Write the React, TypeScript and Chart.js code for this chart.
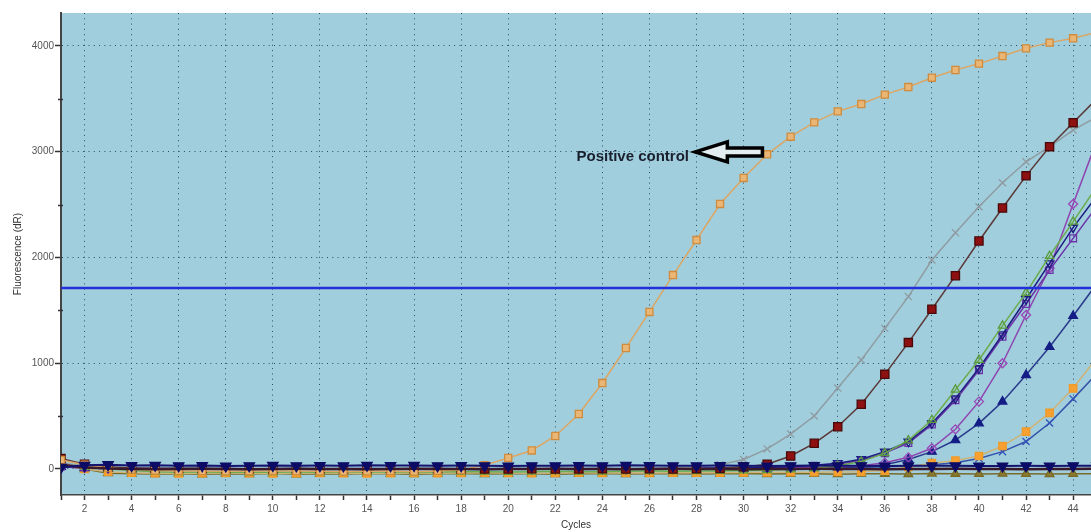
import { useEffect, useRef } from 'react';
import { Chart, registerables } from 'chart.js';

Chart.register(...registerables);

// ---------- data ----------
const cycles = [1, 2, 3, 4, 5, 6, 7, 8, 9, 10, 11, 12, 13, 14, 15, 16, 17, 18, 19, 20, 21, 22, 23, 24, 25, 26, 27, 28, 29, 30, 31, 32, 33, 34, 35, 36, 37, 38, 39, 40, 41, 42, 43, 44, 45];

const positiveControl = [85, 40, 10, -5, -15, -18, -20, -22, -20, -18, -20, -22, -25, -22, -20, -25, -18, -10, 35, 104, 175, 312, 520, 813, 1144, 1485, 1834, 2165, 2506, 2752, 2976, 3142, 3278, 3382, 3451, 3540, 3612, 3700, 3773, 3833, 3905, 3978, 4032, 4073, 4130];

const sampleGrayX = [55, 30, 15, 10, 8, 5, 5, 3, 2, 0, 0, -2, 0, 2, 0, -3, 0, 2, 0, 0, 3, 5, 2, 0, 5, 8, 10, 18, 40, 90, 190, 330, 501, 765, 1031, 1330, 1630, 1976, 2235, 2480, 2707, 2905, 3048, 3205, 3330];

const sampleDarkRed = [100, 45, 20, 10, 5, 5, 2, 0, 0, -2, 0, 0, -3, 0, 2, 0, 0, -2, 0, 0, 2, 0, 0, 3, 0, 2, 0, 3, 5, 20, 45, 123, 243, 400, 612, 895, 1195, 1510, 1828, 2156, 2468, 2772, 3048, 3275, 3500];

const sampleGreen = [40, 20, 0, -15, -25, -30, -28, -30, -32, -30, -28, -30, -30, -28, -25, -30, -28, -25, -25, -28, -25, -22, -25, -25, -22, -20, -22, -20, -18, -15, -12, -5, 5, 30, 70, 150, 270, 463, 750, 1031, 1355, 1665, 2014, 2339, 2670];

const sampleNavyOpen = [30, 20, 15, 10, 8, 5, 5, 5, 3, 3, 5, 2, 3, 5, 3, 2, 5, 3, 2, 5, 3, 2, 3, 5, 3, 2, 5, 8, 10, 12, 15, 22, 35, 55, 92, 164, 258, 432, 668, 953, 1272, 1605, 1945, 2282, 2580];

const samplePurpleSquare = [25, 15, 10, 5, 5, 3, 2, 3, 0, 2, 3, 0, 2, 3, 0, 2, 0, 3, 2, 0, 2, 3, 0, 2, 0, 3, 5, 6, 8, 10, 14, 20, 30, 45, 80, 150, 245, 420, 650, 935, 1250, 1560, 1882, 2181, 2480];

const samplePurpleDiamond = [20, 10, 5, 2, 0, 0, -2, 0, 0, -2, 0, 0, 2, 0, 0, -2, 0, 0, 2, 0, 0, 0, 2, 0, 0, 2, 3, 3, 5, 6, 8, 10, 14, 20, 30, 60, 110, 196, 375, 637, 1000, 1456, 1898, 2506, 3100];

const sampleBlueTriangle = [20, 10, 5, 0, -2, -3, -5, -3, -5, -3, -5, -5, -3, -5, -3, -5, -3, -2, -5, -3, -2, -3, -5, -2, -3, 0, -2, 0, 2, 3, 5, 8, 10, 15, 22, 40, 90, 164, 274, 432, 637, 889, 1154, 1447, 1750];

const sampleOrange = [30, 0, -25, -35, -40, -42, -40, -38, -40, -42, -40, -38, -40, -42, -40, -38, -40, -38, -36, -38, -40, -38, -36, -38, -35, -38, -36, -35, -35, -33, -32, -30, -30, -28, -25, -15, 20, 55, 80, 123, 217, 353, 530, 763, 1050];

const sampleBlueX = [25, 10, 5, 0, 0, -2, 0, 0, -2, 0, 0, 0, -2, 0, 0, 0, 2, 0, 0, -2, 0, 0, 2, 0, 0, 0, 2, 0, 2, 3, 5, 5, 8, 10, 14, 20, 28, 40, 60, 100, 164, 260, 435, 663, 900];

const negativeNavy = [15, 35, 40, 32, 35, 30, 32, 28, 30, 33, 30, 32, 30, 35, 32, 33, 30, 32, 30, 28, 30, 30, 32, 30, 35, 32, 30, 30, 32, 30, 28, 30, 32, 30, 30, 28, 30, 30, 30, 28, 28, 30, 28, 30, 30];

const negativeOlive = [60, 0, -40, -45, -48, -44, -50, -46, -48, -43, -50, -45, -47, -44, -46, -49, -45, -43, -48, -46, -44, -49, -45, -42, -48, -46, -44, -47, -45, -43, -48, -46, -45, -49, -44, -46, -48, -43, -45, -47, -44, -46, -48, -45, -44];

const negativeDark = [40, 15, 5, 0, -2, 0, 2, 0, -3, 0, 2, 0, 0, -2, 0, 2, 0, 0, -2, 0, 0, 2, 0, 0, -2, 0, 2, 0, 0, -2, 0, 0, 2, 0, 0, -2, 0, 0, 2, 0, 0, -2, 0, 0, 2];

const thresholdValue = 1712;
const thresholdX = [1, 45];

const xTickValues = [1, 2, 3, 4, 5, 6, 7, 8, 9, 10, 11, 12, 13, 14, 15, 16, 17, 18, 19, 20, 21, 22, 23, 24, 25, 26, 27, 28, 29, 30, 31, 32, 33, 34, 35, 36, 37, 38, 39, 40, 41, 42, 43, 44];
const yMajorTicks = [0, 1000, 2000, 3000, 4000];
const yMinorTicks = [500, 1500, 2500, 3500];

const X_MIN = 1;
const X_MAX = 44.76;
const Y_MIN = -246;
const Y_MAX = 4312;

// annotation position in data units
const labelText = 'Positive control';
const labelAt = { x: 25.29, y: 2950 };
const arrowTip = { x: 27.95, y: 2998 };
const arrowTailX = 30.8;

const GRID = '#2b4a66';
const PLOT_BG = '#a0cedd';

const toPoints = (vals: number[]) => cycles.map((c, i) => ({ x: c, y: vals[i] }));

function series(
  label: string,
  vals: number[],
  lineColor: string,
  pointStyle: any,
  radius: number,
  pointBorder: string,
  pointFill: string,
  lineWidth = 1.5,
  rotation = 0
) {
  return {
    label,
    data: toPoints(vals),
    borderColor: lineColor,
    borderWidth: lineWidth,
    pointStyle,
    pointRadius: radius,
    pointRotation: rotation,
    pointBorderColor: pointBorder,
    pointBackgroundColor: pointFill,
    pointBorderWidth: 1.3,
    tension: 0,
    fill: false,
  };
}

const bgPlugin = {
  id: 'plotBg',
  beforeDraw(chart: any) {
    const { ctx, chartArea } = chart;
    ctx.save();
    ctx.fillStyle = PLOT_BG;
    ctx.fillRect(chartArea.left, chartArea.top, chartArea.right - chartArea.left, chartArea.bottom - chartArea.top);
    ctx.restore();
  },
};

const minorTickPlugin = {
  id: 'minorTicks',
  afterDraw(chart: any) {
    const { ctx, chartArea } = chart;
    const ys = chart.scales.y;
    ctx.save();
    ctx.strokeStyle = '#333';
    ctx.lineWidth = 1.5;
    yMinorTicks.forEach((v) => {
      const py = Math.round(ys.getPixelForValue(v)) + 0.5;
      ctx.beginPath();
      ctx.moveTo(chartArea.left - 3, py);
      ctx.lineTo(chartArea.left + 2, py);
      ctx.stroke();
    });
    ctx.restore();
  },
};

const annotationPlugin = {
  id: 'pcAnnotation',
  afterDatasetsDraw(chart: any) {
    const { ctx } = chart;
    const xs = chart.scales.x;
    const ys = chart.scales.y;
    ctx.save();
    ctx.font = 'bold 15px "Liberation Sans", Arial, sans-serif';
    ctx.fillStyle = '#1a1f2e';
    ctx.textAlign = 'center';
    ctx.textBaseline = 'middle';
    ctx.fillText(labelText, xs.getPixelForValue(labelAt.x), ys.getPixelForValue(labelAt.y));

    const tx = xs.getPixelForValue(arrowTip.x);
    const cy = ys.getPixelForValue(arrowTip.y);
    const ex = xs.getPixelForValue(arrowTailX);
    const hx = tx + 32;
    ctx.beginPath();
    ctx.moveTo(tx, cy);
    ctx.lineTo(hx, cy - 10);
    ctx.lineTo(hx, cy - 4);
    ctx.lineTo(ex, cy - 4);
    ctx.lineTo(ex, cy + 4);
    ctx.lineTo(hx, cy + 4);
    ctx.lineTo(hx, cy + 10);
    ctx.closePath();
    ctx.fillStyle = '#e4eef0';
    ctx.fill();
    ctx.lineWidth = 3.5;
    ctx.lineJoin = 'miter';
    ctx.strokeStyle = '#000';
    ctx.stroke();
    ctx.restore();
  },
};

export default function App() {
  const canvasRef = useRef<HTMLCanvasElement | null>(null);

  useEffect(() => {
    if (!canvasRef.current) return;
    Chart.defaults.font.family = '"Liberation Sans", Arial, sans-serif';

    const datasets: any[] = [
      {
        label: 'Threshold',
        data: thresholdX.map((x) => ({ x, y: thresholdValue })),
        borderColor: '#2230dc',
        borderWidth: 2.5,
        pointRadius: 0,
        fill: false,
      },
      series('NTC', negativeNavy, '#14146e', 'triangle', 6, '#0c0c66', '#0c0c66', 2, 180),
      series('NTC dark', negativeDark, '#3a1a2a', 'circle', 0, '#3a1a2a', '#3a1a2a', 2.5),
      series('Positive control', positiveControl, '#dca664', 'rect', 5, '#d08c3c', '#eab676', 1.5),
      series('Sample dark red', sampleDarkRed, '#5a3838', 'rect', 5.8, '#4a0808', '#8e1010', 1.5),
      series('Sample gray', sampleGrayX, '#8f9ca2', 'crossRot', 5, '#8f9ca2', '#8f9ca2', 1.5),
      series('Sample green', sampleGreen, '#6cac4e', 'triangle', 4.8, '#5a9a3c', 'rgba(0,0,0,0)', 1.5),
      series('Sample navy open', sampleNavyOpen, '#1c1c80', 'triangle', 5, '#1c1c80', 'rgba(0,0,0,0)', 1.5, 180),
      series('Sample purple square', samplePurpleSquare, '#6a34a8', 'rect', 4.8, '#6a34a8', 'rgba(0,0,0,0)', 1.5),
      series('Sample purple diamond', samplePurpleDiamond, '#8e44b0', 'rectRot', 4.5, '#9a48b8', 'rgba(0,0,0,0)', 1.5),
      series('Sample blue triangle', sampleBlueTriangle, '#2a3a8c', 'triangle', 5, '#141c86', '#141c86', 1.5),
      series('Sample orange', sampleOrange, '#cdb478', 'rect', 5.2, '#f09a28', '#f5a030', 1.5),
      series('Sample blue x', sampleBlueX, '#3452a8', 'crossRot', 5, '#3452b8', '#3452b8', 1.5),
      series('NTC olive', negativeOlive, '#7a6a2a', 'triangle', 5, '#7a6a24', '#8a7a30', 1.5),
    ];

    const chart = new Chart(canvasRef.current, {
      type: 'line',
      data: { datasets },
      options: {
        animation: false,
        responsive: false,
        devicePixelRatio: 1,
        events: [],
        layout: { padding: { top: 13, left: 0, right: 0, bottom: 0 }, autoPadding: false },
        plugins: { legend: { display: false }, tooltip: { enabled: false }, title: { display: false } },
        scales: {
          x: {
            type: 'linear',
            min: X_MIN,
            max: X_MAX,
            afterBuildTicks: (s: any) => {
              s.ticks = xTickValues.map((v) => ({ value: v }));
            },
            afterFit: (s: any) => {
              s.height = 37;
            },
            ticks: {
              autoSkip: false,
              maxRotation: 0,
              padding: 3,
              color: '#555',
              font: { size: 10 },
              callback: (v: any) => (Number(v) % 2 === 0 ? String(v) : ''),
            },
            grid: {
              color: (c: any) => (c.tick && c.tick.value % 2 === 0 ? GRID : 'rgba(0,0,0,0)'),
              lineWidth: 1,
              tickColor: '#333',
              tickLength: 5,
              tickWidth: 1.5,
            },
            border: { color: '#444', width: 1.5, dash: [1, 4.3] },
            title: { display: true, text: 'Cycles', color: '#333', font: { size: 10 }, padding: { top: 0, bottom: 1 } },
          },
          y: {
            type: 'linear',
            min: Y_MIN,
            max: Y_MAX,
            afterBuildTicks: (s: any) => {
              s.ticks = yMajorTicks.map((v) => ({ value: v }));
            },
            afterFit: (s: any) => {
              s.width = 61;
            },
            ticks: {
              padding: 1,
              color: '#555',
              font: { size: 10 },
              callback: (v: any) => String(v),
            },
            grid: {
              color: GRID,
              lineWidth: 1,
              tickColor: '#333',
              tickLength: 6,
              tickWidth: 1.5,
            },
            border: { color: '#444', width: 2, dash: [1, 4.3] },
            title: {
              display: true,
              text: 'Fluorescence (dR)',
              color: '#333',
              font: { size: 10 },
              padding: { top: 12, bottom: 0 },
            },
          },
        },
      } as any,
      plugins: [bgPlugin, minorTickPlugin, annotationPlugin],
    });

    return () => chart.destroy();
  }, []);

  return (
    <div style={{ position: 'absolute', left: 0, top: 0, width: 1091, height: 532, background: '#fff' }}>
      <canvas ref={canvasRef} width={1091} height={532} style={{ display: 'block', width: 1091, height: 532 }} />
    </div>
  );
}
